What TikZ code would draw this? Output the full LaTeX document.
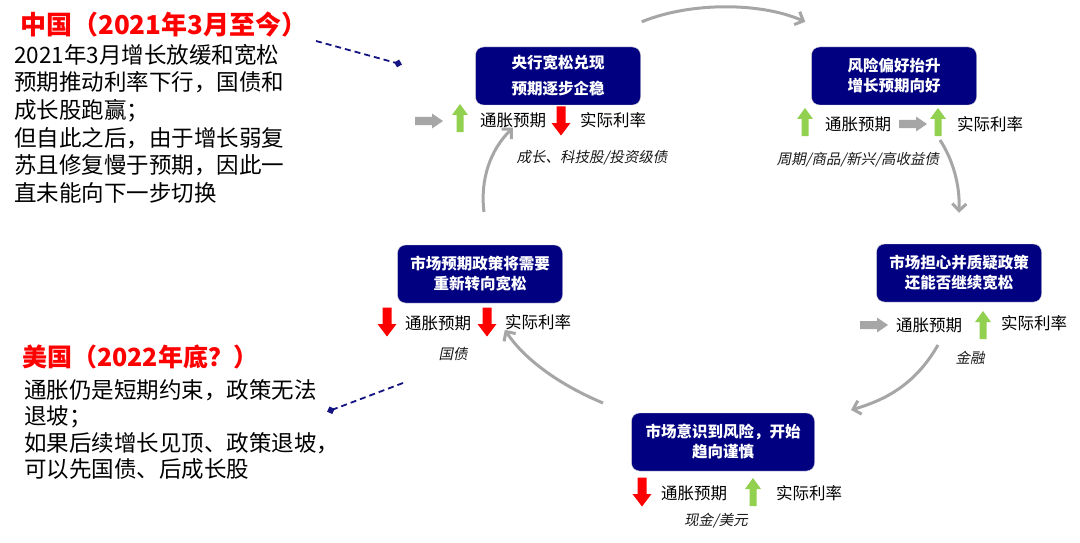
\documentclass[tikz,border=0pt]{standalone}
\usepackage{fontspec}
\setmainfont{Noto Sans CJK SC}
\newfontfamily\slantfont{Noto Sans CJK SC}[FakeSlant=0.2]
\usetikzlibrary{positioning,calc,arrows.meta}

\definecolor{navybox}{RGB}{0,0,128}
\definecolor{upgreen}{RGB}{146,208,80}
\definecolor{downred}{RGB}{255,0,0}
\definecolor{flowgray}{RGB}{166,166,166}
\definecolor{notenavy}{RGB}{20,20,130}

\tikzset{
  pics/uparrow/.style={code={
      \fill[upgreen] (0,-14) -- (8,-3) -- (3.5,-3) -- (3.5,14)
      -- (-3.5,14) -- (-3.5,-3) -- (-8,-3) -- cycle;}},
  pics/downarrow/.style={code={
      \fill[downred] (0,14.5) -- (9.5,2) -- (4.5,2) -- (4.5,-14.5)
      -- (-4.5,-14.5) -- (-4.5,2) -- (-9.5,2) -- cycle;}},
  pics/rightarrow/.style={code={
      \fill[flowgray] (14,0) -- (3,-7.5) -- (3,-4) -- (-14,-4)
      -- (-14,4) -- (3,4) -- (3,7.5) -- cycle;}},
}

\begin{document}
\begin{tikzpicture}[x=1pt,y=-1pt]
  \useasboundingbox[fill=white] (0,0) rectangle (1080,543);
  % left notes
  \begin{scope}[every node/.style={inner sep=0pt,anchor=west}]
    \node[text=downred,font=\fontsize{26}{30}\selectfont\bfseries] (cn-title)
    at (20,25) {中国（2021年3月至今）};
    \node[anchor=north west,align=left,font=\fontsize{22.5}{27.6}\selectfont]
    (cn-text) at (14,44) {2021年3月增长放缓和宽松\\预期推动利率下行，国债和\\成长股跑赢；\\
      但自此之后，由于增长弱复\\苏且修复慢于预期，因此一\\直未能向下一步切换};
    \node[text=downred,font=\fontsize{25}{28}\selectfont\bfseries] (us-title)
    at (22,357) {美国（2022年底？）};
    \node[anchor=north west,align=left,font=\fontsize{22.5}{26.5}\selectfont]
    (us-text) at (24,379) {通胀仍是短期约束，政策无法\\退坡；\\
      如果后续增长见顶、政策退坡，\\可以先国债、后成长股};
  \end{scope}
  % stage boxes
  \begin{scope}[
    every node/.style={
      align=center,
      anchor=center,
      text=white,
      fill=navybox,
      draw=black!15,
      rounded corners=8pt,
      minimum height=58pt,
      minimum width=165pt,
      font=\fontsize{15.5}{20}\selectfont\bfseries,
    },
    ]
    \node[font=\fontsize{15.5}{26}\selectfont\bfseries] (ease) at (558,76)
    {央行宽松兑现\\预期逐步企稳};
    \node (risk) at (894,76) {风险偏好抬升\\增长预期向好};
    \node (doubt) at (959,273) {市场担心并质疑政策\\还能否继续宽松};
    \node[minimum width=183pt] (caution) at (723,442) {市场意识到风险，开始\\趋向谨慎};
    \node (turn) at (480,274) {市场预期政策将需要\\重新转向宽松};
  \end{scope}
  % indicators
  \begin{scope}[every node/.style={inner sep=0pt,font=\fontsize{16.5}{20}\selectfont}]
    \pic at (429,121) {rightarrow};
    \pic at (460,118) {uparrow};
    \node (inf1) at (513,120) {通胀预期};
    \pic at (561,121) {downarrow};
    \node (rr1) at (613,120) {实际利率};
    \node[font=\fontsize{14.5}{16}\slantfont,text=black!90] (asset1) at (592,158)
    {成长、科技股/投资级债};

    \pic at (805,122) {uparrow};
    \node (inf2) at (858,124) {通胀预期};
    \pic at (913,124) {rightarrow};
    \pic at (938,122) {uparrow};
    \node (rr2) at (990,124) {实际利率};
    \node[font=\fontsize{14.5}{16}\slantfont,text=black!90] (asset2) at (858,160)
    {周期/商品/新兴/高收益债};

    \pic at (874,325) {rightarrow};
    \node (inf3) at (929,325) {通胀预期};
    \pic at (983,325) {uparrow};
    \node (rr3) at (1034,323) {实际利率};
    \node[font=\fontsize{14.5}{16}\slantfont,text=black!90] (asset3) at (970,358) {金融};

    \pic at (642,492) {downarrow};
    \node (inf4) at (694,493) {通胀预期};
    \pic at (753,492) {uparrow};
    \node (rr4) at (809,493) {实际利率};
    \node[font=\fontsize{14.5}{16}\slantfont,text=black!90] (asset4) at (716,521) {现金/美元};

    \pic at (387,322) {downarrow};
    \node (inf5) at (438,323) {通胀预期};
    \pic at (487,322) {downarrow};
    \node (rr5) at (538,322) {实际利率};
    \node[font=\fontsize{14.5}{16}\slantfont,text=black!90] (asset5) at (453,354) {国债};
  \end{scope}
  % cycle
  \coordinate (c1a) at ($(ease.north east)+(1,-25)$);
  \coordinate (c1b) at ($(risk.north west)+(-6,-25)$);
  \coordinate (c2a) at (940,140);
  \coordinate (c2b) at ($(doubt.north)+(0,-31)$);
  \coordinate (c3a) at (938,345);
  \coordinate (c3b) at (851,410);
  \coordinate (c4a) at (603,403);
  \coordinate (c5a) at (484,212);
  \begin{scope}[
    every path/.style={draw=flowgray,line width=3pt,
      -{Straight Barb[length=7pt,width=14pt,line width=3pt]}},
    ]
    \path (c1a) .. controls (690,2) and (760,2) .. (c1b);
    \path (c2a) .. controls (953,160) and (960,185) .. (c2b);
    \path (c3a) .. controls (915,385) and (885,400) .. (c3b);
    \path (c4a) .. controls (560,385) and (525,360) .. (rr5.south west);
    \path (c5a) .. controls (480,180) and (490,150) .. (inf1.south);
  \end{scope}
  % pointers to notes
  \coordinate (cn-end) at (400,64);
  \coordinate (us-end) at (329,411);
  \draw[notenavy,line width=1.8pt,dash pattern=on 6pt off 4pt,
    -{Diamond[length=8pt,width=8pt,sep=-2pt]}] (316,41) -- (cn-end);
  \draw[notenavy,line width=1.8pt,dash pattern=on 6pt off 4pt,
    -{Diamond[length=8pt,width=8pt,sep=-2pt]}] (403,383) -- (us-end);
\end{tikzpicture}
\end{document}
